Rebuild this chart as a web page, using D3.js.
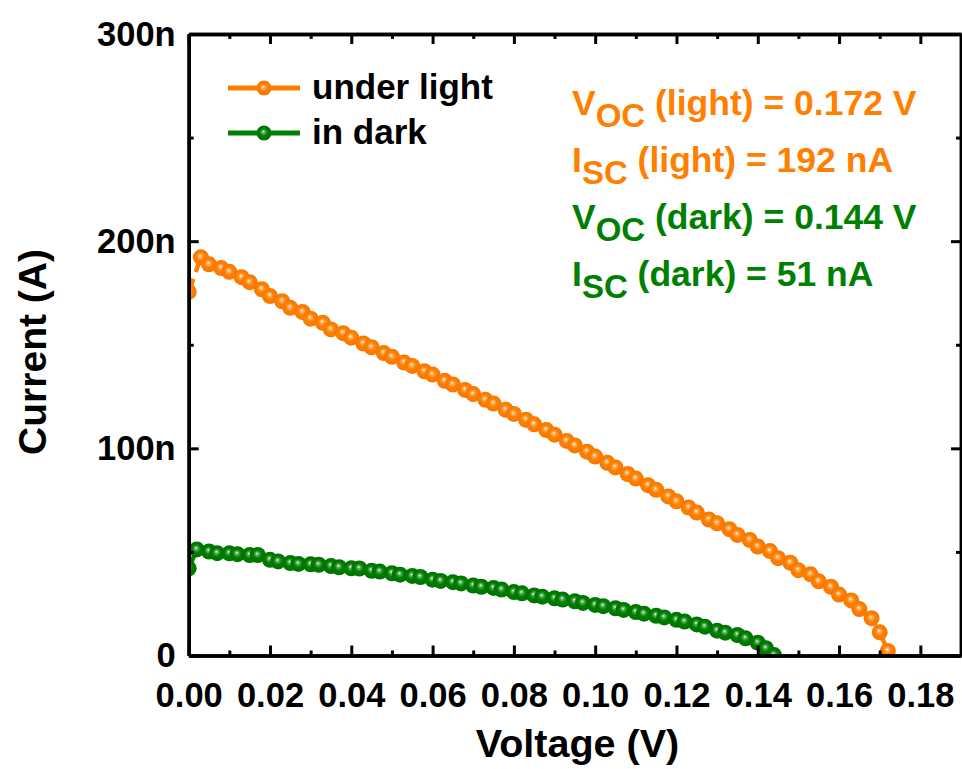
<!DOCTYPE html>
<html>
<head>
<meta charset="utf-8">
<script src="https://cdn.jsdelivr.net/npm/d3@7/dist/d3.min.js"></script>
<style>
  html, body { margin: 0; padding: 0; background: #fff; }
  svg { display: block; font-family: "Liberation Sans", Arial, sans-serif; font-weight: bold; }
</style>
</head>
<body>
<svg id="chart" width="962" height="769"></svg>
<script>
// I–V sweep, under illumination (voltage in V, current in nA)
const voltageLight = [0, 0.003, 0.005, 0.008, 0.010, 0.013, 0.015, 0.018, 0.020, 0.023,
  0.025, 0.028, 0.030, 0.033, 0.035, 0.038, 0.040, 0.043, 0.045, 0.048,
  0.050, 0.053, 0.055, 0.058, 0.060, 0.063, 0.065, 0.068, 0.070, 0.073,
  0.075, 0.078, 0.080, 0.083, 0.085, 0.088, 0.090, 0.093, 0.095, 0.098,
  0.100, 0.103, 0.105, 0.108, 0.110, 0.113, 0.115, 0.118, 0.120, 0.123,
  0.125, 0.128, 0.130, 0.133, 0.135, 0.138, 0.140, 0.143, 0.145, 0.148,
  0.150, 0.153, 0.155, 0.158, 0.160, 0.163, 0.165, 0.168, 0.170, 0.172];
const currentLight = [175.5, 192.2, 188.8, 187.0, 185.2, 182.6, 180.2, 176.8, 173.5, 171.0,
  167.8, 165.8, 162.6, 160.6, 157.4, 155.6, 153.4, 150.6, 148.8, 146.0,
  144.2, 141.4, 139.8, 137.2, 135.6, 132.6, 130.8, 128.2, 126.2, 123.4,
  121.6, 118.6, 116.6, 113.8, 111.6, 108.8, 106.6, 103.6, 101.4, 98.4,
  96.0, 93.0, 90.8, 87.6, 85.4, 82.2, 80.0, 76.8, 74.4, 71.4,
  69.0, 65.6, 63.8, 61.0, 58.2, 55.8, 52.6, 50.4, 47.0, 44.8,
  41.2, 39.2, 35.8, 33.2, 29.4, 26.6, 22.4, 18.0, 11.2, 2.2];

// I–V sweep in the dark
const voltageDark = [0, 0.002, 0.005, 0.007, 0.010, 0.012, 0.015, 0.017, 0.020, 0.022,
  0.025, 0.027, 0.030, 0.032, 0.035, 0.037, 0.040, 0.042, 0.045, 0.047,
  0.050, 0.052, 0.055, 0.057, 0.060, 0.062, 0.065, 0.067, 0.070, 0.072,
  0.075, 0.077, 0.080, 0.082, 0.085, 0.087, 0.090, 0.092, 0.095, 0.097,
  0.100, 0.102, 0.105, 0.107, 0.110, 0.112, 0.115, 0.117, 0.120, 0.122,
  0.125, 0.127, 0.130, 0.132, 0.135, 0.137, 0.140, 0.142, 0.144];
const currentDark = [42.1, 51.2, 50.2, 49.4, 49.3, 48.9, 48.5, 48.5, 46.2, 45.4,
  44.6, 44.2, 44.0, 43.8, 43.2, 42.6, 42.1, 42.0, 40.9, 40.5,
  39.7, 39.0, 38.4, 37.9, 36.6, 36.0, 35.4, 34.8, 33.8, 33.2,
  32.6, 31.8, 30.6, 30.0, 29.0, 28.4, 27.6, 27.0, 26.2, 25.4,
  24.4, 23.8, 22.8, 22.0, 21.0, 20.2, 19.2, 18.4, 17.2, 16.4,
  15.0, 13.9, 12.0, 11.0, 9.9, 8.3, 6.2, 3.5, 0.2];

const seriesNames = ["under light", "in dark"];
const seriesColors = ["#ff8000", "#008000"];

const xMajorTicks = [0, 0.02, 0.04, 0.06, 0.08, 0.10, 0.12, 0.14, 0.16, 0.18];
const xMinorTicks = [0.01, 0.03, 0.05, 0.07, 0.09, 0.11, 0.13, 0.15, 0.17];
const yMajorTicks = [0, 100, 200, 300];
const yMinorTicks = [50, 150, 250];
const yTickLabels = ["0", "100n", "200n", "300n"];

const annotations = [
  { main: "V", sub: "OC", rest: " (light) = 0.172 V", color: 0 },
  { main: "I", sub: "SC", rest: " (light) = 192 nA", color: 0 },
  { main: "V", sub: "OC", rest: " (dark) = 0.144 V", color: 1 },
  { main: "I", sub: "SC", rest: " (dark) = 51 nA", color: 1 }
];

const svg = d3.select("#chart");
const plotLeft = 188.7, plotRight = 961, plotTop = 34, plotBottom = 655.5;

const x = d3.scaleLinear().domain([0, 0.19]).range([plotLeft, plotRight]);
const y = d3.scaleLinear().domain([0, 300]).range([plotBottom, plotTop]);

// sphere-like marker fills
const defs = svg.append("defs");
const shades = [
  ["#ffffff", "#ffb466", "#ff8000", "#f57700"],
  ["#ffffff", "#66b366", "#008000", "#007000"]
];
shades.forEach((s, i) => {
  const g = defs.append("radialGradient").attr("id", "ball" + i)
    .attr("cx", "50%").attr("cy", "50%").attr("r", "50%")
    .attr("fx", "45%").attr("fy", "40%");
  g.append("stop").attr("offset", "0%").attr("stop-color", s[0]);
  g.append("stop").attr("offset", "18%").attr("stop-color", s[1]);
  g.append("stop").attr("offset", "50%").attr("stop-color", s[2]);
  g.append("stop").attr("offset", "100%").attr("stop-color", s[3]);
});
defs.append("clipPath").attr("id", "plotClip")
  .append("rect").attr("x", plotLeft).attr("y", plotTop)
  .attr("width", plotRight - plotLeft).attr("height", plotBottom - plotTop);

const series = [
  { v: voltageLight, i: currentLight },
  { v: voltageDark, i: currentDark }
];

const plot = svg.append("g").attr("clip-path", "url(#plotClip)");
const line = d3.line().x(d => x(d[0])).y(d => y(d[1]));

series.forEach((s, k) => {
  const pts = s.v.map((v, j) => [v, s.i[j]]);
  plot.append("path").datum(pts)
    .attr("d", line)
    .attr("fill", "none")
    .attr("stroke", seriesColors[k])
    .attr("stroke-width", 4.5)
    .attr("stroke-dasharray", "14 7");
  plot.append("g").selectAll("circle").data(pts).join("circle")
    .attr("cx", d => x(d[0]))
    .attr("cy", d => y(d[1]))
    .attr("r", 8)
    .attr("fill", `url(#ball${k})`);
});

// axes: ticks on all four sides, pointing inward
function styleAxis(g) {
  g.selectAll(".tick line").attr("stroke", "#000").attr("stroke-width", 3);
  g.selectAll("path.domain").attr("stroke", "#000").attr("stroke-width", 3.5);
  g.selectAll("text").attr("fill", "#000").attr("font-size", 34.5)
    .attr("font-family", '"Liberation Sans", Arial, sans-serif').attr("font-weight", "bold");
}

const fmtX = d3.format(".2f");
const fmtY = v => yTickLabels[yMajorTicks.indexOf(v)];

svg.append("g").attr("transform", `translate(0,${plotBottom})`)
  .call(d3.axisBottom(x).tickValues(xMinorTicks).tickSize(-5).tickSizeOuter(0).tickFormat(""))
  .call(styleAxis);
svg.append("g").attr("transform", `translate(0,${plotBottom})`)
  .call(d3.axisBottom(x).tickValues(xMajorTicks).tickSize(-10).tickSizeOuter(0).tickPadding(27).tickFormat(fmtX))
  .call(styleAxis);
svg.append("g").attr("transform", `translate(0,${plotTop})`)
  .call(d3.axisTop(x).tickValues(xMinorTicks).tickSize(-5).tickSizeOuter(0).tickFormat(""))
  .call(styleAxis);
svg.append("g").attr("transform", `translate(0,${plotTop})`)
  .call(d3.axisTop(x).tickValues(xMajorTicks).tickSize(-10).tickSizeOuter(0).tickFormat(""))
  .call(styleAxis);

svg.append("g").attr("transform", `translate(${plotLeft},0)`)
  .call(d3.axisLeft(y).tickValues(yMinorTicks).tickSize(-5).tickSizeOuter(0).tickFormat(""))
  .call(styleAxis);
svg.append("g").attr("transform", `translate(${plotLeft},0)`)
  .call(d3.axisLeft(y).tickValues(yMajorTicks).tickSize(-10).tickSizeOuter(0).tickPadding(13).tickFormat(fmtY))
  .call(styleAxis);
svg.append("g").attr("transform", `translate(${plotRight},0)`)
  .call(d3.axisRight(y).tickValues(yMinorTicks).tickSize(-5).tickSizeOuter(0).tickFormat(""))
  .call(styleAxis);
svg.append("g").attr("transform", `translate(${plotRight},0)`)
  .call(d3.axisRight(y).tickValues(yMajorTicks).tickSize(-10).tickSizeOuter(0).tickFormat(""))
  .call(styleAxis);

// axis titles
svg.append("text")
  .attr("x", 577.5).attr("y", 757)
  .attr("text-anchor", "middle").attr("font-size", 39.5).attr("fill", "#000")
  .text("Voltage (V)");
svg.append("text")
  .attr("transform", "translate(46,352) rotate(-90)")
  .attr("text-anchor", "middle").attr("font-size", 39).attr("fill", "#000")
  .text("Current (A)");

// legend
const legend = svg.append("g");
seriesNames.forEach((name, k) => {
  const ly = 88 + k * 45;
  legend.append("line")
    .attr("x1", 228).attr("x2", 300).attr("y1", ly).attr("y2", ly)
    .attr("stroke", seriesColors[k]).attr("stroke-width", 5);
  legend.append("circle")
    .attr("cx", 264).attr("cy", ly).attr("r", 7.5)
    .attr("fill", `url(#ball${k})`);
  legend.append("text")
    .attr("x", 312).attr("y", ly + 11)
    .attr("font-size", 35).attr("fill", "#000")
    .text(name);
});

// Voc / Isc annotations
const notes = svg.append("g");
annotations.forEach((a, k) => {
  const t = notes.append("text")
    .attr("x", 572).attr("y", 115 + k * 57)
    .attr("font-size", 35.5).attr("fill", seriesColors[a.color]);
  t.append("tspan").text(a.main);
  t.append("tspan").attr("dy", 12).attr("font-size", 33).text(a.sub);
  t.append("tspan").attr("dy", -12).text(a.rest);
});
</script>
</body>
</html>
